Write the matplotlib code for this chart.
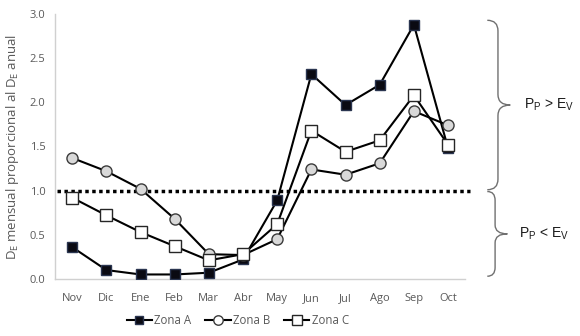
import matplotlib.pyplot as plt
import matplotlib.transforms as mtransforms
from matplotlib.path import Path
from matplotlib.patches import PathPatch

# Monthly values
months = ['Nov', 'Dic', 'Ene', 'Feb', 'Mar', 'Abr', 'May', 'Jun', 'Jul', 'Ago', 'Sep', 'Oct']
zona_a = [0.36, 0.10, 0.05, 0.05, 0.07, 0.22, 0.89, 2.32, 1.97, 2.20, 2.88, 1.48]
zona_b = [1.37, 1.22, 1.02, 0.68, 0.28, 0.27, 0.45, 1.24, 1.18, 1.31, 1.90, 1.74]
zona_c = [0.92, 0.72, 0.53, 0.37, 0.21, 0.28, 0.62, 1.68, 1.44, 1.57, 2.08, 1.52]
threshold = 1.0
yticks = [0.0, 0.5, 1.0, 1.5, 2.0, 2.5, 3.0]

GRAY = '#595959'
plt.rcParams['font.family'] = ['Open Sans', 'DejaVu Sans']


def brace(ax, y_top, y_bot, x_end, x_mid, x_tip, r):
    """Draw a right-pointing curly brace between y_top and y_bot."""
    ym = (y_top + y_bot) / 2
    verts = [(x_end, y_top), (x_mid, y_top), (x_mid, y_top - r),
             (x_mid, ym + r), (x_mid, ym), (x_tip, ym),
             (x_mid, ym), (x_mid, ym - r),
             (x_mid, y_bot + r), (x_mid, y_bot), (x_end, y_bot)]
    codes = [Path.MOVETO, Path.CURVE3, Path.CURVE3,
             Path.LINETO, Path.CURVE3, Path.CURVE3,
             Path.CURVE3, Path.CURVE3,
             Path.LINETO, Path.CURVE3, Path.CURVE3]
    trans = mtransforms.blended_transform_factory(ax.transAxes, ax.transData)
    patch = PathPatch(Path(verts, codes), facecolor='none', edgecolor='#707070',
                      lw=1.0, transform=trans, clip_on=False)
    ax.add_patch(patch)
    return ym


fig = plt.figure(figsize=(5.8, 3.36), dpi=100)
ax = fig.add_axes([0.095, 0.170, 0.707, 0.788])

x = range(len(months))
ax.plot(x, zona_a, color='black', lw=1.5, marker='s', ms=7.5,
        mfc='#0a0a12', mec='#2a3550', mew=1.0, label='Zona A', zorder=3)
ax.plot(x, zona_b, color='black', lw=1.5, marker='o', ms=8,
        mfc='#d9d9d9', mec='#3a3a3a', mew=1.0, label='Zona B', zorder=3)
ax.plot(x, zona_c, color='black', lw=1.5, marker='s', ms=8,
        mfc='white', mec='#262626', mew=1.0, label='Zona C', zorder=4)

ax.axhline(threshold, xmin=0.005, xmax=1.012, color='black', lw=2.5,
           ls=(0, (1, 1)), clip_on=False, zorder=2)

ax.set_xlim(-0.5, len(months) - 0.5)
ax.set_ylim(0, 3.0)
ax.set_xticks(list(x))
ax.set_xticklabels(months)
ax.set_yticks(yticks)
ax.set_yticklabels([f'{v:.1f}' for v in yticks])
ax.tick_params(axis='both', length=0, labelsize=8, labelcolor=GRAY)
ax.tick_params(axis='x', pad=10)
ax.tick_params(axis='y', pad=7)

for side in ['top', 'right']:
    ax.spines[side].set_visible(False)
for side in ['left', 'bottom']:
    ax.spines[side].set_color('#d0d0d0')
    ax.spines[side].set_linewidth(1.0)

ax.set_ylabel(r'D$_\mathregular{E}$ mensual proporcional al D$_\mathregular{E}$ anual',
              fontsize=9.5, color=GRAY, labelpad=6)

# Braces on the right side
trans = mtransforms.blended_transform_factory(ax.transAxes, ax.transData)
ym_hi = brace(ax, 2.93, threshold + 0.01, 1.054, 1.080, 1.110, 0.12)
ym_lo = brace(ax, threshold - 0.01, 0.03, 1.054, 1.073, 1.103, 0.10)
ax.text(1.143, ym_hi, r'P$_\mathregular{P}$ > E$_\mathregular{V}$', transform=trans,
        fontsize=10, color='#1a1a1a', va='center', ha='left', family='Liberation Sans')
ax.text(1.131, ym_lo, r'P$_\mathregular{P}$ < E$_\mathregular{V}$', transform=trans,
        fontsize=10, color='#1a1a1a', va='center', ha='left', family='Liberation Sans')

leg = fig.legend(loc='center', bbox_to_anchor=(0.41, 0.045), ncol=3, frameon=False,
                 fontsize=8.3, handlelength=2.2, handletextpad=0.2, columnspacing=1.2,
                 markerscale=0.85)
for t in leg.get_texts():
    t.set_color(GRAY)
for h in leg.legend_handles:
    h.set_markerfacecolor('white' if h.get_label() != 'Zona A' else '#0a0a12')

fig.savefig('out.png', dpi=100, facecolor='white')
